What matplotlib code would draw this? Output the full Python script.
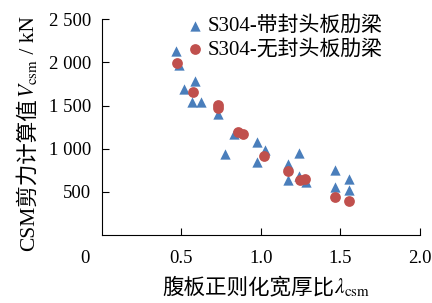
import matplotlib
matplotlib.use("Agg")
import matplotlib.pyplot as plt

plt.rcParams['font.family'] = ['Liberation Serif', 'Noto Sans CJK SC']
plt.rcParams['mathtext.fontset'] = 'stix'

# S304 - 带封头板肋梁 (triangles)
x_tri = [0.463, 0.486, 0.585, 0.516, 0.568, 0.621, 0.728, 0.832, 0.973, 0.774,
         1.025, 0.973, 1.241, 1.172, 1.172, 1.241, 1.281, 1.465, 1.465, 1.553, 1.553]
y_tri = [2130, 1968, 1786, 1690, 1543, 1536, 1400, 1169, 1080, 934,
         984, 841, 945, 822, 637, 683, 617, 752, 559, 648, 521]

# S304 - 无封头板肋梁 (circles)
x_cir = [0.470, 0.570, 0.728, 0.728, 0.853, 0.889, 1.021, 1.172, 1.245, 1.277, 1.465, 1.553]
y_cir = [1994, 1651, 1505, 1466, 1196, 1169, 914, 744, 637, 648, 443, 397]

xticks = [0.5, 1.0, 1.5, 2.0]
xtick_labels = ['0.5', '1.0', '1.5', '2.0']
yticks = [500, 1000, 1500, 2000, 2500]
ytick_labels = ['500', '1 000', '1 500', '2 000', '2 500']

blue = '#4A7EBB'
red = '#C0504D'

W, H = 432, 303
fig = plt.figure(figsize=(W / 100, H / 100), dpi=100)
ax = fig.add_axes([0.236, 0.224, 0.736, 0.713])

ax.scatter(x_tri, y_tri, marker='^', s=55, color=blue, linewidths=0, label='S304-带封头板肋梁', zorder=3)
ax.scatter(x_cir, y_cir, marker='o', s=60, color=red, linewidths=0, label='S304-无封头板肋梁', zorder=4)

ax.set_xlim(0, 2.0)
ax.set_ylim(0, 2500)
ax.set_xticks(xticks)
ax.set_xticklabels(xtick_labels)
ax.set_yticks(yticks)
ax.set_yticklabels(ytick_labels)
ax.tick_params(direction='in', length=5, width=0.8, labelsize=13.5, color='black')
ax.tick_params(axis='x', pad=11)
ax.tick_params(axis='y', pad=8)

for s in ['top', 'right']:
    ax.spines[s].set_visible(False)
for s in ['left', 'bottom']:
    ax.spines[s].set_linewidth(0.8)

ax.text(-0.053, -0.07, '0', transform=ax.transAxes, ha='center', va='top', fontsize=13.5)

ax.legend(loc='upper left', bbox_to_anchor=(0.222, 1.06), frameon=False, fontsize=15,
          handletextpad=0.0, labelspacing=0.15, borderpad=0, handlelength=1.2)

# axis titles: CJK part and math part drawn as separate texts so both fonts work
renderer = fig.canvas.get_renderer()


def chain_text(pieces, x0, y0, vertical, size=15):
    # x0, y0 in image pixels (origin top-left), anchored at baseline start
    pos = 0.0
    for txt in pieces:
        if vertical:
            t = fig.text(x0 / W, (H - y0 + pos) / H, txt, rotation=90, rotation_mode='anchor',
                         ha='left', va='baseline', fontsize=size)
            pos += t.get_window_extent(renderer).height
        else:
            t = fig.text((x0 + pos) / W, (H - y0) / H, txt, ha='left', va='baseline', fontsize=size)
            pos += t.get_window_extent(renderer).width


chain_text(['CSM剪力计算值', '$V_{\\mathrm{csm}}$', ' / kN'], 34, 251, True, size=15.5)
chain_text(['腹板正则化宽厚比', '$\\lambda_{\\mathrm{csm}}$'], 162, 293, False, size=15.5)

fig.savefig('out.png', dpi=100)
